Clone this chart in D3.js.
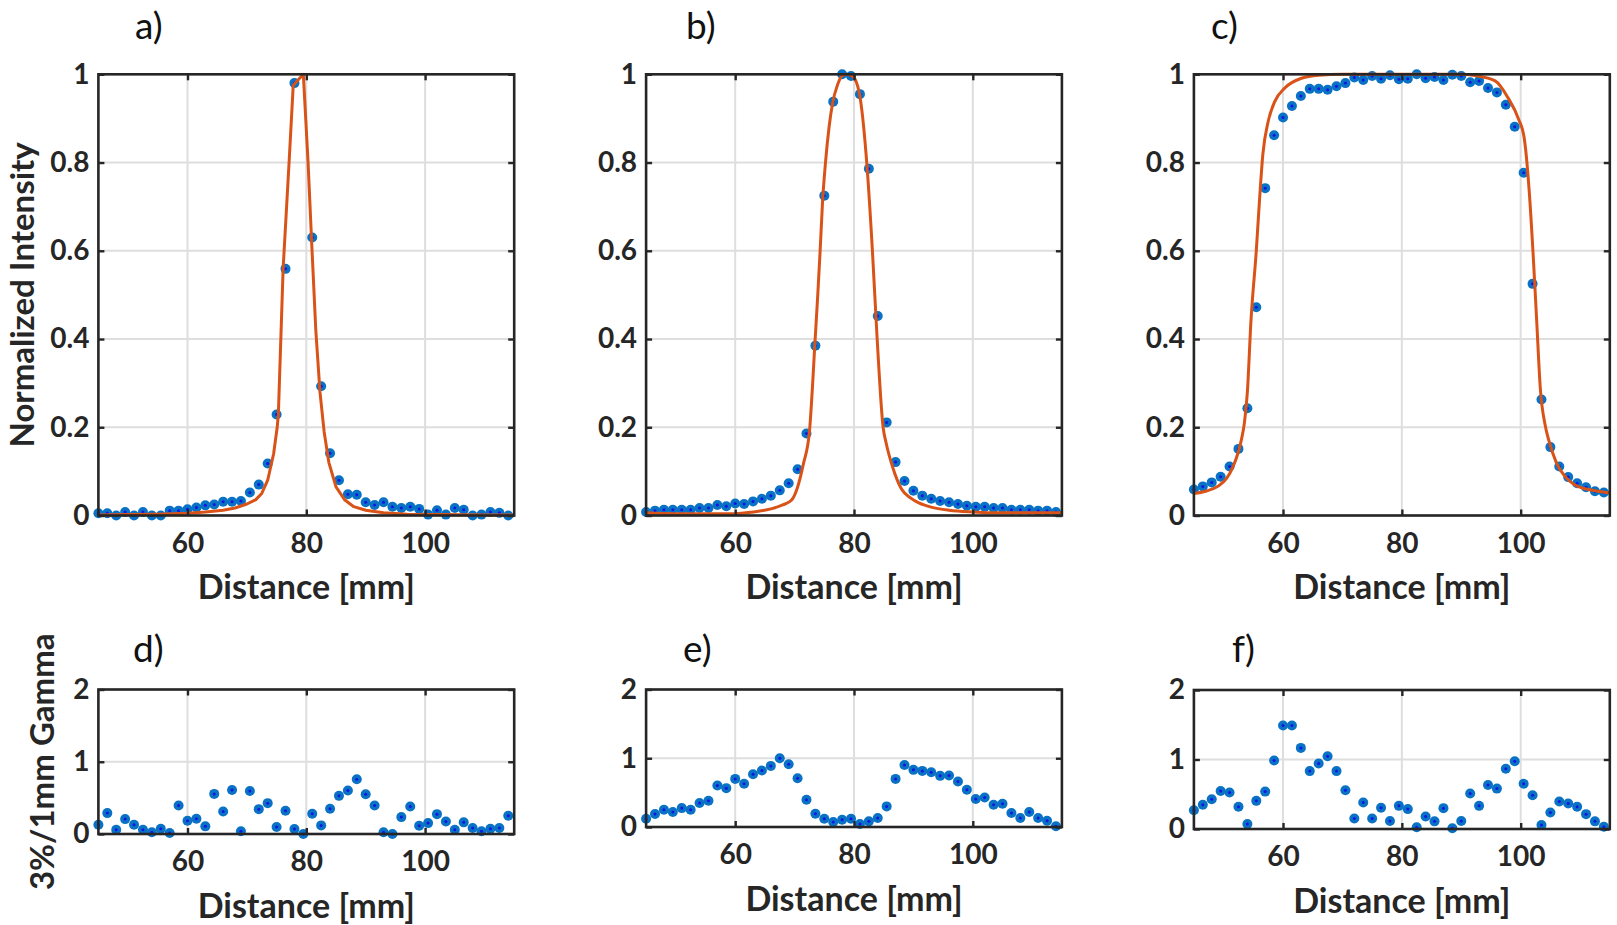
<!DOCTYPE html>
<html><head><meta charset="utf-8">
<script src="https://cdn.jsdelivr.net/npm/d3@7"></script>
<style>
body{margin:0;background:#fff}
svg{display:block}
text{font-family:Lato,"Open Sans",sans-serif}
</style>
</head><body>
<svg id="chart" width="1617" height="925"></svg>
<script>
// ---------------- data ----------------
const distance = [45, 46.5, 48, 49.5, 51, 52.5, 54, 55.5, 57, 58.5, 60, 61.5, 63, 64.5, 66, 67.5, 69, 70.5, 72, 73.5, 75, 76.5, 78, 79.5, 81, 82.5, 84, 85.5, 87, 88.5, 90, 91.5, 93, 94.5, 96, 97.5, 99, 100.5, 102, 103.5, 105, 106.5, 108, 109.5, 111, 112.5, 114];
const xTicks = [60, 80, 100];
const intensityTicks = [0, 0.2, 0.4, 0.6, 0.8, 1];
const intensityTickLabels = ["0", "0.2", "0.4", "0.6", "0.8", "1"];
const gammaTicks = [0, 1, 2];
const gammaTickLabels = ["0", "1", "2"];

const measuredA = [0.005, 0.005, 0.0, 0.008, 0.0, 0.008, 0.0, 0.0, 0.011, 0.011, 0.014, 0.018, 0.023, 0.025, 0.031, 0.031, 0.033, 0.052, 0.07, 0.118, 0.229, 0.559, 0.98, null, 0.63, 0.293, 0.141, 0.08, 0.048, 0.047, 0.03, 0.024, 0.03, 0.02, 0.017, 0.02, 0.015, 0.002, 0.012, 0.002, 0.017, 0.013, 0.0, 0.002, 0.008, 0.006, 0.0];
const measuredB = [0.008, 0.011, 0.013, 0.013, 0.013, 0.013, 0.017, 0.017, 0.024, 0.021, 0.027, 0.026, 0.032, 0.038, 0.045, 0.057, 0.073, 0.105, 0.186, 0.385, 0.725, 0.938, 1.0, 0.996, 0.955, 0.786, 0.452, 0.211, 0.121, 0.078, 0.056, 0.045, 0.038, 0.033, 0.03, 0.026, 0.022, 0.02, 0.02, 0.017, 0.017, 0.013, 0.013, 0.013, 0.011, 0.011, 0.008];
const measuredC = [0.059, 0.066, 0.075, 0.088, 0.111, 0.151, 0.243, 0.472, 0.742, 0.862, 0.902, 0.928, 0.951, 0.967, 0.967, 0.965, 0.973, 0.98, 0.993, 0.987, 0.996, 0.99, 0.998, 0.989, 0.99, 1.0, 0.991, 0.994, 0.987, 0.999, 0.996, 0.982, 0.985, 0.969, 0.959, 0.931, 0.881, 0.777, 0.525, 0.263, 0.155, 0.111, 0.087, 0.073, 0.064, 0.055, 0.052];

const simAx = [45, 50, 55, 60, 63, 66, 68, 70, 71.5, 72.5, 73.5, 74.5, 75.1, 75.3, 76.1, 77.1, 77.8, 79.5, 80.3, 80.9, 81.6, 82.3, 83.0, 83.8, 85, 86.5, 88, 90, 93, 97, 103, 110, 115];
const simA  = [0.001, 0.002, 0.003, 0.005, 0.008, 0.012, 0.017, 0.026, 0.036, 0.05, 0.08, 0.14, 0.2, 0.23, 0.56, 0.8, 0.975, 1.0, 0.8, 0.62, 0.42, 0.28, 0.19, 0.12, 0.065, 0.035, 0.02, 0.012, 0.006, 0.003, 0.002, 0.001, 0.001];
const simBx = [45, 50, 55, 60, 63, 66, 68, 69.5, 70.5, 71.5, 72.5, 73.0, 73.4, 73.9, 74.3, 74.7, 75.2, 75.8, 76.4, 77.2, 78.1, 78.8, 79.8, 80.9, 82.2, 83.1, 83.9, 84.9, 85.4, 86.5, 88, 89.5, 91, 93, 96, 100, 105, 110, 115];
const simB  = [0.006, 0.004, 0.004, 0.004, 0.008, 0.015, 0.024, 0.035, 0.064, 0.118, 0.19, 0.29, 0.386, 0.5, 0.6, 0.71, 0.8, 0.88, 0.935, 0.975, 0.998, 1.0, 0.995, 0.957, 0.79, 0.6, 0.4, 0.2, 0.165, 0.11, 0.06, 0.04, 0.028, 0.019, 0.012, 0.008, 0.006, 0.006, 0.006];
const simCx = [45, 47, 49, 50.5, 51.5, 52.5, 53.0, 53.5, 54.0, 54.6, 55.5, 56.1, 56.6, 57.5, 58.6, 60.3, 63.1, 66, 70, 80, 90, 92.3, 95.7, 97.9, 99.6, 100.6, 101.4, 102.1, 102.7, 103.3, 104.1, 104.7, 106, 107.5, 109, 111, 113, 115];
const simC  = [0.05, 0.055, 0.066, 0.084, 0.108, 0.145, 0.172, 0.21, 0.28, 0.44, 0.6, 0.727, 0.818, 0.893, 0.938, 0.969, 0.991, 0.998, 1.0, 1.0, 1.0, 0.997, 0.985, 0.946, 0.9, 0.855, 0.742, 0.591, 0.44, 0.289, 0.206, 0.172, 0.12, 0.088, 0.07, 0.06, 0.055, 0.051];

const gammaD = [0.128, 0.289, 0.06, 0.206, 0.128, 0.06, 0.023, 0.073, 0.014, 0.394, 0.183, 0.211, 0.106, 0.555, 0.312, 0.61, 0.037, 0.596, 0.344, 0.427, 0.096, 0.321, 0.069, 0.0, 0.28, 0.119, 0.349, 0.528, 0.601, 0.757, 0.55, 0.394, 0.023, 0.0, 0.234, 0.381, 0.115, 0.151, 0.275, 0.174, 0.06, 0.161, 0.083, 0.037, 0.073, 0.083, 0.252];
const gammaE = [0.121, 0.188, 0.251, 0.217, 0.275, 0.251, 0.348, 0.382, 0.604, 0.565, 0.7, 0.628, 0.768, 0.821, 0.889, 1.0, 0.913, 0.71, 0.396, 0.193, 0.121, 0.072, 0.106, 0.121, 0.043, 0.082, 0.13, 0.3, 0.7, 0.903, 0.831, 0.816, 0.797, 0.744, 0.749, 0.662, 0.541, 0.406, 0.43, 0.324, 0.338, 0.203, 0.13, 0.217, 0.13, 0.092, 0.01];
const gammaF = [0.271, 0.348, 0.429, 0.548, 0.524, 0.319, 0.071, 0.405, 0.538, 0.986, 1.49, 1.49, 1.167, 0.833, 0.943, 1.048, 0.833, 0.557, 0.152, 0.381, 0.152, 0.305, 0.114, 0.333, 0.286, 0.024, 0.181, 0.11, 0.3, 0.01, 0.114, 0.51, 0.333, 0.633, 0.581, 0.867, 0.976, 0.652, 0.486, 0.057, 0.238, 0.395, 0.367, 0.319, 0.214, 0.11, 0.033];

const panelLetters = ["a)", "b)", "c)", "d)", "e)", "f)"];
const xLabel = "Distance [mm]";
const yLabelTop = "Normalized Intensity";
const yLabelBottom = "3%/1mm Gamma";

// ---------------- layout ----------------
const svg = d3.select("#chart");
const INK = "#262626", GRID = "#dedede", BLUE = "#0a72c4", BLUE_C = "#1414e6", ORANGE = "#D95319";
const xDomain = [45, 115];
const cols = [{l: 98.4, r: 514.2}, {l: 646.1, r: 1061.9}, {l: 1193.9, r: 1609.8}];

const panels = [
  {col: 0, top: 74.3, bottom: 515.5, yDom: [0, 1], ticks: intensityTicks, labels: intensityTickLabels, dots: measuredA, simX: simAx, sim: simA, curve: d3.curveLinear, letter: panelLetters[0], lx: 135, ly: 39},
  {col: 1, top: 74.3, bottom: 515.5, yDom: [0, 1], ticks: intensityTicks, labels: intensityTickLabels, dots: measuredB, simX: simBx, sim: simB, curve: d3.curveMonotoneX, letter: panelLetters[1], lx: 686, ly: 39},
  {col: 2, top: 74.3, bottom: 515.5, yDom: [0, 1], ticks: intensityTicks, labels: intensityTickLabels, dots: measuredC, simX: simCx, sim: simC, curve: d3.curveMonotoneX, letter: panelLetters[2], lx: 1211, ly: 39},
  {col: 0, top: 689.5, bottom: 834, yDom: [0, 2], ticks: gammaTicks, labels: gammaTickLabels, dots: gammaD, letter: panelLetters[3], lx: 133, ly: 662},
  {col: 1, top: 689.5, bottom: 827, yDom: [0, 2], ticks: gammaTicks, labels: gammaTickLabels, dots: gammaE, letter: panelLetters[4], lx: 683, ly: 662},
  {col: 2, top: 690, bottom: 829, yDom: [0, 2], ticks: gammaTicks, labels: gammaTickLabels, dots: gammaF, letter: panelLetters[5], lx: 1232, ly: 662}
];

panels.forEach(p => {
  const c = cols[p.col];
  const x = d3.scaleLinear().domain(xDomain).range([c.l, c.r]);
  const y = d3.scaleLinear().domain(p.yDom).range([p.bottom, p.top]);
  const g = svg.append("g");

  // grid
  g.append("g").selectAll("line").data(xTicks).join("line")
    .attr("x1", d => x(d)).attr("x2", d => x(d)).attr("y1", p.top).attr("y2", p.bottom)
    .attr("stroke", GRID).attr("stroke-width", 2);
  g.append("g").selectAll("line").data(p.ticks).join("line")
    .attr("x1", c.l).attr("x2", c.r).attr("y1", d => y(d)).attr("y2", d => y(d))
    .attr("stroke", GRID).attr("stroke-width", 2);

  // measured points
  const pts = distance.map((d, i) => ({x: d, v: p.dots[i]})).filter(d => d.v !== null);
  g.append("g").selectAll("circle").data(pts).join("circle")
    .attr("cx", d => x(d.x)).attr("cy", d => y(d.v)).attr("r", 5).attr("fill", BLUE);
  g.append("g").selectAll("circle").data(pts).join("circle")
    .attr("cx", d => x(d.x)).attr("cy", d => y(d.v)).attr("r", 1.5).attr("fill", BLUE_C);

  // simulated line
  if (p.sim) {
    const line = d3.line().x(d => x(d[0])).y(d => y(d[1])).curve(p.curve);
    g.append("path").datum(p.simX.map((d, i) => [d, p.sim[i]]))
      .attr("d", line).attr("fill", "none").attr("stroke", ORANGE)
      .attr("stroke-width", 3).attr("stroke-linejoin", "round");
  }

  // box
  g.append("rect").attr("x", c.l).attr("y", p.top).attr("width", c.r - c.l).attr("height", p.bottom - p.top)
    .attr("fill", "none").attr("stroke", INK).attr("stroke-width", 2.6);

  // axes
  const styleAxis = sel => {
    sel.select(".domain").remove();
    sel.selectAll(".tick line").attr("stroke", INK).attr("stroke-width", 2.4);
    sel.selectAll(".tick text").attr("fill", INK).style("font-family", "Lato, sans-serif")
      .style("font-weight", "700").style("font-size", "28px");
  };
  g.append("g").attr("transform", `translate(0,${p.bottom})`)
    .call(d3.axisBottom(x).tickValues(xTicks).tickSizeInner(-6).tickSizeOuter(0).tickPadding(17.5))
    .call(styleAxis);
  g.append("g").attr("transform", `translate(0,${p.top})`)
    .call(d3.axisTop(x).tickValues(xTicks).tickSizeInner(-6).tickSizeOuter(0).tickFormat(""))
    .call(styleAxis);
  g.append("g").attr("transform", `translate(${c.l},0)`)
    .call(d3.axisLeft(y).tickValues(p.ticks).tickSizeInner(-6).tickSizeOuter(0).tickPadding(9)
      .tickFormat((d, i) => p.labels[i]))
    .call(styleAxis);
  g.append("g").attr("transform", `translate(${c.r},0)`)
    .call(d3.axisRight(y).tickValues(p.ticks).tickSizeInner(-6).tickSizeOuter(0).tickFormat(""))
    .call(styleAxis);

  // x label
  g.append("text").attr("x", (c.l + c.r) / 2).attr("y", p.bottom + 83.5)
    .attr("text-anchor", "middle").attr("fill", INK)
    .style("font-weight", "700").style("font-size", "34px").text(xLabel);

  // panel letter
  g.append("text").attr("x", p.lx).attr("y", p.ly).attr("fill", "#111")
    .style("font-weight", "400").style("font-size", "37px").text(p.letter);
});

// y labels
svg.append("text").attr("transform", `translate(34,${(74.3 + 515.5) / 2}) rotate(-90)`)
  .attr("text-anchor", "middle").attr("fill", INK)
  .style("font-weight", "700").style("font-size", "33px").text(yLabelTop);
svg.append("text").attr("transform", `translate(54,${(689.5 + 834) / 2}) rotate(-90)`)
  .attr("text-anchor", "middle").attr("fill", INK)
  .style("font-weight", "700").style("font-size", "33px").text(yLabelBottom);
</script>
</body></html>
